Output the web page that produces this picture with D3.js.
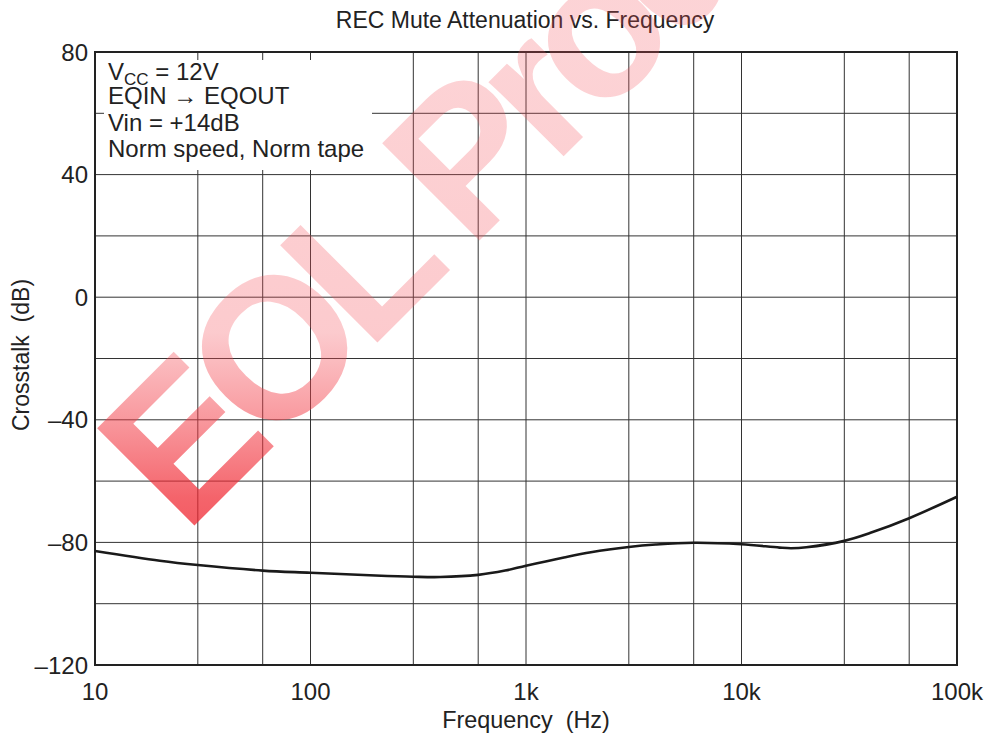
<!DOCTYPE html>
<html>
<head>
<meta charset="utf-8">
<script src="https://cdn.jsdelivr.net/npm/d3@7"></script>
<style>
  html, body { margin: 0; padding: 0; background: #fff; }
  svg { display: block; }
  text { font-family: "Liberation Sans", Arial, Helvetica, sans-serif; fill: #222; white-space: pre; }
</style>
</head>
<body>
<svg id="chart" width="989" height="740"></svg>
<script>
// ---- data ----
const freqHz =   [10,   20,   30,   60,   100,  200,  300,  400,  600,  800,  1000, 1500, 2000, 3000, 4000, 6000, 10000, 15000, 17000, 20000, 30000, 40000, 60000, 100000];
const crosstalk = [-82.8,-86.0,-87.4,-89.2,-89.9,-90.8,-91.2,-91.3,-90.6,-89.2,-87.6,-84.9,-83.2,-81.5,-80.7,-80.1,-80.6, -81.7, -81.9, -81.6, -79.5, -76.8, -72.1, -65.1];
const xGridValues = [10, 30, 60, 100, 300, 600, 1000, 3000, 6000, 10000, 30000, 60000, 100000];
const xTickValues = [10, 100, 1000, 10000, 100000];
const xTickLabels = ["10", "100", "1k", "10k", "100k"];
const yTickValues = [80, 40, 0, -40, -80, -120];
const yTickLabels = ["80", "40", "0", "–40", "–80", "–120"];
const yGridValues = [80, 60, 40, 20, 0, -20, -40, -60, -80, -100, -120];
const titleText = "REC Mute Attenuation vs. Frequency";
const xTitle = "Frequency  (Hz)";
const yTitle = "Crosstalk  (dB)";
const legendLines = ["EQIN \u2192 EQOUT", "Vin = +14dB", "Norm speed, Norm tape"];
const watermarkText = "EOL Product";

// ---- layout ----
const svg = d3.select("#chart");
const L = 95, R = 957, T = 52, B = 665;
const x = d3.scaleLog().domain([10, 100000]).range([L, R]);
const y = d3.scaleLinear().domain([-120, 80]).range([B, T]);
const FS = 23;

// grid
const grid = svg.append("g");
grid.selectAll("line.v").data(xGridValues).enter().append("line")
  .attr("x1", d => x(d)).attr("x2", d => x(d)).attr("y1", T).attr("y2", B)
  .attr("stroke", "#333").attr("stroke-width", 1);
grid.selectAll("line.h").data(yGridValues).enter().append("line")
  .attr("x1", L).attr("x2", R).attr("y1", d => y(d)).attr("y2", d => y(d))
  .attr("stroke", "#333").attr("stroke-width", 1);

// frame
svg.append("rect").attr("x", L).attr("y", T).attr("width", R - L).attr("height", B - T)
  .attr("fill", "none").attr("stroke", "#222").attr("stroke-width", 2);

// legend box
svg.append("rect").attr("x", 104).attr("y", 60).attr("width", 268).attr("height", 110).attr("fill", "#fff");
const lg = svg.append("g").attr("font-size", 24);
const t1 = lg.append("text").attr("x", 108).attr("y", 80);
t1.append("tspan").text("V");
t1.append("tspan").attr("font-size", 17).attr("dy", 5).text("CC");
t1.append("tspan").attr("dy", -5).text(" = 12V");
legendLines.forEach((s, i) => {
  lg.append("text").attr("x", 108).attr("y", 104 + i * 26.5).text(s);
});

// curve
const line = d3.line().x(d => x(d[0])).y(d => y(d[1])).curve(d3.curveCatmullRom.alpha(0.5));
svg.append("path").datum(freqHz.map((f, i) => [f, crosstalk[i]]))
  .attr("d", line).attr("fill", "none").attr("stroke", "#1a1a1a").attr("stroke-width", 2.6);

// y ticks
svg.append("g").selectAll("text").data(yTickValues).enter().append("text")
  .attr("x", 88).attr("y", d => y(d)).attr("dy", "0.36em").attr("text-anchor", "end")
  .attr("font-size", 24).text((d, i) => yTickLabels[i]);

// x ticks
svg.append("g").selectAll("text").data(xTickValues).enter().append("text")
  .attr("x", d => x(d)).attr("y", 700).attr("text-anchor", "middle")
  .attr("font-size", 24).text((d, i) => xTickLabels[i]);

// titles
svg.append("text").attr("x", 525).attr("y", 28).attr("text-anchor", "middle").attr("font-size", FS).text(titleText);
svg.append("text").attr("x", 526).attr("y", 728).attr("text-anchor", "middle").attr("font-size", 23.4).text(xTitle);
svg.append("text").attr("transform", "translate(29,355) rotate(-90)").attr("text-anchor", "middle").attr("font-size", 23).text(yTitle);

// watermark
const defs = svg.append("defs");
const grad = defs.append("linearGradient").attr("id", "wm").attr("gradientUnits", "userSpaceOnUse")
  .attr("x1", 170).attr("y1", 540).attr("x2", 700).attr("y2", 10);
grad.append("stop").attr("offset", "0").attr("stop-color", "rgb(245,80,90)").attr("stop-opacity", 0.25);
grad.append("stop").attr("offset", "0.15").attr("stop-color", "rgb(235,20,30)").attr("stop-opacity", 0.9);
grad.append("stop").attr("offset", "0.4").attr("stop-color", "rgb(240,40,50)").attr("stop-opacity", 0.72);
grad.append("stop").attr("offset", "0.62").attr("stop-color", "rgb(245,80,90)").attr("stop-opacity", 0.3);
grad.append("stop").attr("offset", "1").attr("stop-color", "rgb(245,80,90)").attr("stop-opacity", 0.25);
svg.append("text").attr("transform", "translate(185,535) rotate(-45)")
  .attr("font-size", 200).attr("font-weight", "bold").attr("letter-spacing", -15)
  .style("fill", "url(#wm)").text(watermarkText);
</script>
</body>
</html>
